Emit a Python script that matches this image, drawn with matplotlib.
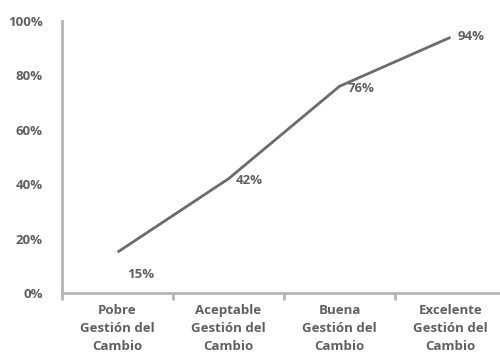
import matplotlib
matplotlib.use("Agg")
import matplotlib.pyplot as plt
from matplotlib.ticker import FixedLocator, PercentFormatter

categories = ["Pobre\nGestión del\nCambio", "Aceptable\nGestión del\nCambio",
              "Buena\nGestión del\nCambio", "Excelente\nGestión del\nCambio"]
values = [15, 42, 76, 94]
value_labels = ["15%", "42%", "76%", "94%"]
label_offsets = [(23, -22), (21, -2), (22, -2), (21, 1)]

text_color = "#606060"
axis_color = "#b4b4b4"
line_color = "#6b6b6b"

plt.rcParams["font.family"] = ["Open Sans", "DejaVu Sans"]

fig = plt.figure(figsize=(5.0, 3.62), dpi=100)
W, H = 500, 362
ax = fig.add_axes([62 / W, (H - 293) / H, 444 / W, 272 / H])

x = list(range(len(categories)))
ax.plot(x, values, color=line_color, lw=2.0, solid_capstyle="butt", zorder=3)

for xi, v, lab, (dx, dy) in zip(x, values, value_labels, label_offsets):
    ax.annotate(lab, (xi, v), xytext=(dx, dy), textcoords="offset pixels",
                ha="center", va="center", fontsize=9.5, fontweight="bold",
                color=text_color)

ax.set_xlim(-0.5, 3.5)
ax.set_ylim(0, 100)

for s in ["top", "right"]:
    ax.spines[s].set_visible(False)
for s in ["left", "bottom"]:
    ax.spines[s].set_color(axis_color)
    ax.spines[s].set_linewidth(2.0)

ax.set_xticks(x)
ax.set_xticklabels(categories, fontsize=9.5, fontweight="bold", color=text_color,
                   linespacing=1.5)
ax.tick_params(axis="x", which="major", length=0, pad=8)
ax.xaxis.set_minor_locator(FixedLocator([-0.5, 0.5, 1.5, 2.5]))
ax.tick_params(axis="x", which="minor", length=5, width=2.0, color=axis_color,
               direction="out")

ax.set_yticks([0, 20, 40, 60, 80, 100])
ax.yaxis.set_major_formatter(PercentFormatter(decimals=0))
for t in ax.get_yticklabels():
    t.set_fontweight("bold")
    t.set_color(text_color)
    t.set_fontsize(9.5)
ax.tick_params(axis="y", which="major", length=0, pad=14)
ax.yaxis.set_minor_locator(FixedLocator([0]))
ax.tick_params(axis="y", which="minor", length=6, width=2.0, color=axis_color,
               direction="out")

fig.savefig("out.png", dpi=100)
